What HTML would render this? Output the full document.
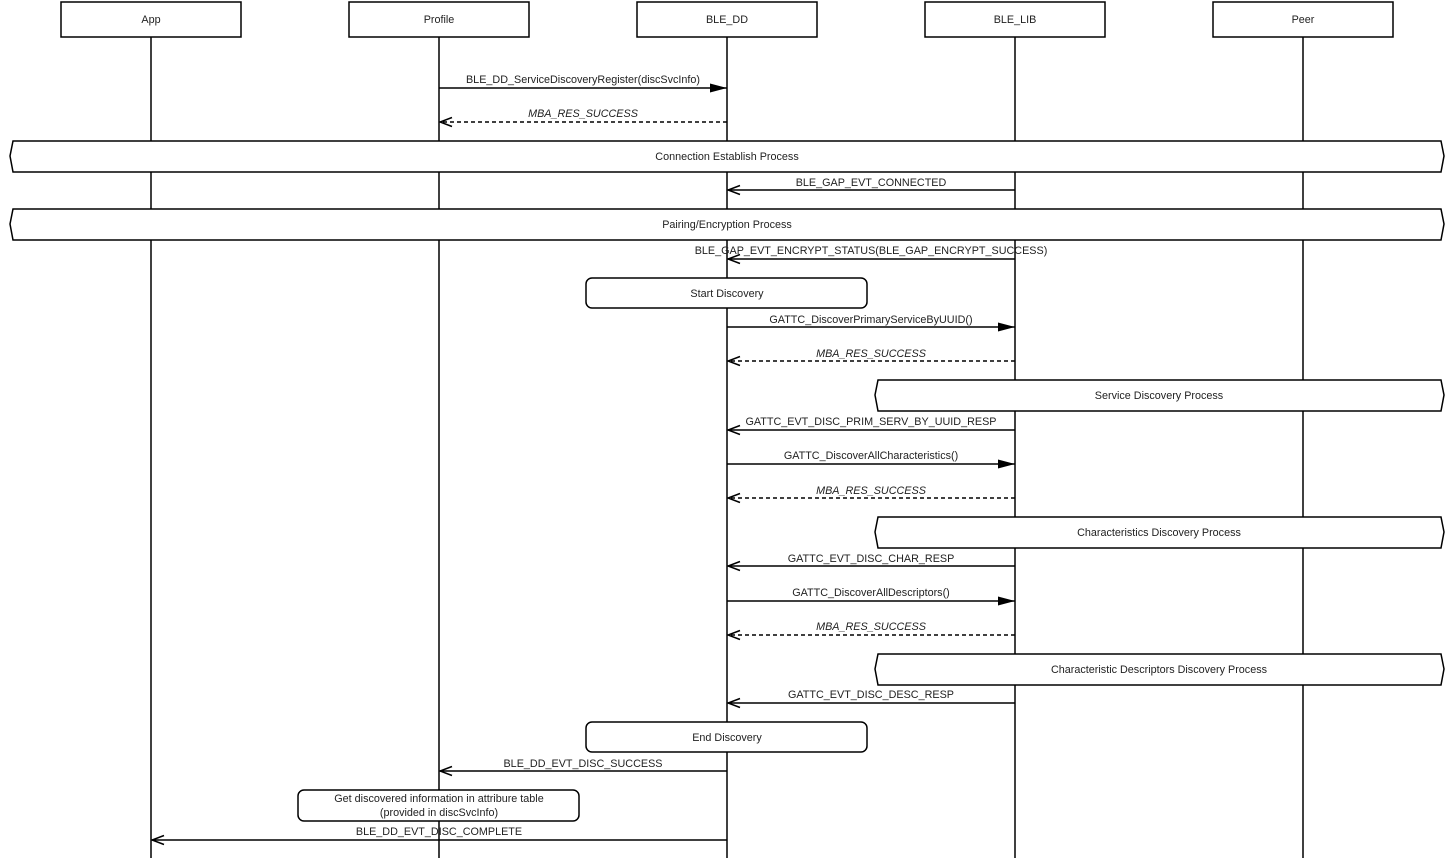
<!DOCTYPE html>
<html><head><meta charset="utf-8"><style>
html,body{margin:0;padding:0;background:#fff;}
svg text{font-family:"Liberation Sans",Arial,sans-serif;font-size:10.8px;fill:#222;}
</style></head><body>
<svg width="1454" height="860" xmlns="http://www.w3.org/2000/svg">
<defs>
<marker id="fill" markerWidth="18" markerHeight="12" refX="17" refY="6" orient="auto" markerUnits="userSpaceOnUse"><path d="M0,1.5 L17,6 L0,10.5 Z" fill="#000"/></marker>
<marker id="open" markerWidth="14" markerHeight="12" refX="13" refY="6" orient="auto" markerUnits="userSpaceOnUse"><path d="M1,1.5 L13,6 L1,10.5" fill="none" stroke="#000" stroke-width="1.5"/></marker>
</defs>
<g stroke="#000" stroke-width="1.5" fill="#fff">
<rect x="61" y="2" width="180" height="35"/>
<rect x="349" y="2" width="180" height="35"/>
<rect x="637" y="2" width="180" height="35"/>
<rect x="925" y="2" width="180" height="35"/>
<rect x="1213" y="2" width="180" height="35"/>
<line x1="151" y1="37" x2="151" y2="858"/>
<line x1="439" y1="37" x2="439" y2="858"/>
<line x1="727" y1="37" x2="727" y2="858"/>
<line x1="1015" y1="37" x2="1015" y2="858"/>
<line x1="1303" y1="37" x2="1303" y2="858"/>
</g>
<g text-anchor="middle">
<text x="151" y="23">App</text><text x="439" y="23">Profile</text><text x="727" y="23">BLE_DD</text><text x="1015" y="23">BLE_LIB</text><text x="1303" y="23">Peer</text>
</g>
<g stroke="#000" stroke-width="1.5" fill="none">
<line x1="439" y1="88" x2="727" y2="88" marker-end="url(#fill)"/>
<line x1="727" y1="122" x2="440" y2="122" stroke-dasharray="4,3" marker-end="url(#open)" />
<line x1="1015" y1="190" x2="728" y2="190" marker-end="url(#open)"/>
<line x1="1015" y1="259" x2="728" y2="259" marker-end="url(#open)"/>
<line x1="727" y1="327" x2="1015" y2="327" marker-end="url(#fill)"/>
<line x1="1015" y1="361" x2="728" y2="361" stroke-dasharray="4,3" marker-end="url(#open)"/>
<line x1="1015" y1="430" x2="728" y2="430" marker-end="url(#open)"/>
<line x1="727" y1="464" x2="1015" y2="464" marker-end="url(#fill)"/>
<line x1="1015" y1="498" x2="728" y2="498" stroke-dasharray="4,3" marker-end="url(#open)"/>
<line x1="1015" y1="566" x2="728" y2="566" marker-end="url(#open)"/>
<line x1="727" y1="601" x2="1015" y2="601" marker-end="url(#fill)"/>
<line x1="1015" y1="635" x2="728" y2="635" stroke-dasharray="4,3" marker-end="url(#open)"/>
<line x1="1015" y1="703" x2="728" y2="703" marker-end="url(#open)"/>
<line x1="727" y1="771" x2="440" y2="771" marker-end="url(#open)"/>
<line x1="727" y1="840" x2="152" y2="840" marker-end="url(#open)"/>
</g>
<g stroke="#000" stroke-width="1.5" fill="#fff">
<path d="M13,141 L1441,141 L1444,156 L1441,172 L13,172 L10,156 Z"/>
<path d="M13,209 L1441,209 L1444,224 L1441,240 L13,240 L10,224 Z"/>
<path d="M878,380 L1441,380 L1444,395 L1441,411 L878,411 L875,395 Z"/>
<path d="M878,517 L1441,517 L1444,532 L1441,548 L878,548 L875,532 Z"/>
<path d="M878,654 L1441,654 L1444,669 L1441,685 L878,685 L875,669 Z"/>
<rect x="586" y="278" width="281" height="30" rx="6"/>
<rect x="586" y="722" width="281" height="30" rx="6"/>
<rect x="298" y="790" width="281" height="31" rx="6"/>
</g>
<g text-anchor="middle">
<text x="583" y="83">BLE_DD_ServiceDiscoveryRegister(discSvcInfo)</text>
<text x="583" y="117" font-style="italic" fill="#444">MBA_RES_SUCCESS</text>
<text x="727" y="160">Connection Establish Process</text>
<text x="871" y="186">BLE_GAP_EVT_CONNECTED</text>
<text x="727" y="228">Pairing/Encryption Process</text>
<text x="871" y="254">BLE_GAP_EVT_ENCRYPT_STATUS(BLE_GAP_ENCRYPT_SUCCESS)</text>
<text x="727" y="297">Start Discovery</text>
<text x="871" y="323">GATTC_DiscoverPrimaryServiceByUUID()</text>
<text x="871" y="357" font-style="italic" fill="#444">MBA_RES_SUCCESS</text>
<text x="1159" y="399">Service Discovery Process</text>
<text x="871" y="425">GATTC_EVT_DISC_PRIM_SERV_BY_UUID_RESP</text>
<text x="871" y="459">GATTC_DiscoverAllCharacteristics()</text>
<text x="871" y="494" font-style="italic" fill="#444">MBA_RES_SUCCESS</text>
<text x="1159" y="536">Characteristics Discovery Process</text>
<text x="871" y="562">GATTC_EVT_DISC_CHAR_RESP</text>
<text x="871" y="596">GATTC_DiscoverAllDescriptors()</text>
<text x="871" y="630" font-style="italic" fill="#444">MBA_RES_SUCCESS</text>
<text x="1159" y="673">Characteristic Descriptors Discovery Process</text>
<text x="871" y="698">GATTC_EVT_DISC_DESC_RESP</text>
<text x="727" y="741">End Discovery</text>
<text x="583" y="767">BLE_DD_EVT_DISC_SUCCESS</text>
<text x="439" y="802">Get discovered information in attribure table</text>
<text x="439" y="816">(provided in discSvcInfo)</text>
<text x="439" y="835">BLE_DD_EVT_DISC_COMPLETE</text>
</g>
</svg>
</body></html>
